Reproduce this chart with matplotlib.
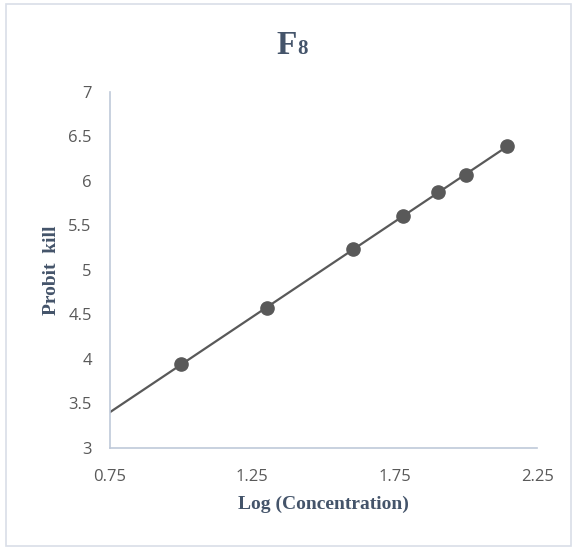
import matplotlib.pyplot as plt
import numpy as np
from matplotlib.patches import Rectangle

# log concentration vs probit kill
log_conc = [1.0, 1.301, 1.602, 1.778, 1.903, 2.0, 2.146]
probit = [3.94, 4.57, 5.23, 5.61, 5.87, 6.07, 6.39]

x_ticks = [0.75, 1.25, 1.75, 2.25]
y_ticks = [3, 3.5, 4, 4.5, 5, 5.5, 6, 6.5, 7]

fig = plt.figure(figsize=(5.72, 5.47), dpi=100)
ax = fig.add_axes([0.192, 0.181, 0.747, 0.651])

# linear trendline, extended back to the left edge of the axis
slope, intercept = np.polyfit(log_conc, probit, 1)
xs = np.array([0.75, max(log_conc)])
ax.plot(xs, slope * xs + intercept, color='#595959', lw=1.6, zorder=2)
ax.plot(log_conc, probit, 'o', color='#595959', ms=9.5, zorder=3)

ax.set_xlim(0.75, 2.25)
ax.set_ylim(3, 7)
ax.set_xticks(x_ticks)
ax.set_xticklabels([f'{t:g}' for t in x_ticks])
ax.set_yticks(y_ticks)
ax.set_yticklabels([f'{t:g}' for t in y_ticks])
ax.tick_params(length=0, labelsize=12, labelcolor='#595959')
ax.tick_params(axis='x', pad=15)
ax.tick_params(axis='y', pad=13)
for lab in ax.get_xticklabels() + ax.get_yticklabels():
    lab.set_family('Open Sans')

for s in ['top', 'right']:
    ax.spines[s].set_visible(False)
for s in ['left', 'bottom']:
    ax.spines[s].set_color('#BFC9D9')
    ax.spines[s].set_linewidth(1.2)

ax.set_xlabel('Log (Concentration)', family='Liberation Serif', fontweight='bold',
              fontsize=14, color='#44546A', labelpad=8)
ax.set_ylabel('Probit  kill', family='Liberation Serif', fontweight='bold',
              fontsize=14, color='#44546A', labelpad=6)

# title "F8" with smaller 8
fig.text(0.519, 0.901, 'F', family='Liberation Serif', fontweight='bold',
         fontsize=24, color='#44546A', ha='right', va='baseline')
fig.text(0.519, 0.901, '8', family='Liberation Serif', fontweight='bold',
         fontsize=15, color='#44546A', ha='left', va='baseline')

# chart border
fig.patches.append(Rectangle((6 / 572, 1 - 546 / 547), 565 / 572, 542 / 547,
                             transform=fig.transFigure, fill=False,
                             edgecolor='#D9DEE8', lw=1.2))

fig.savefig('out.png', dpi=100)
